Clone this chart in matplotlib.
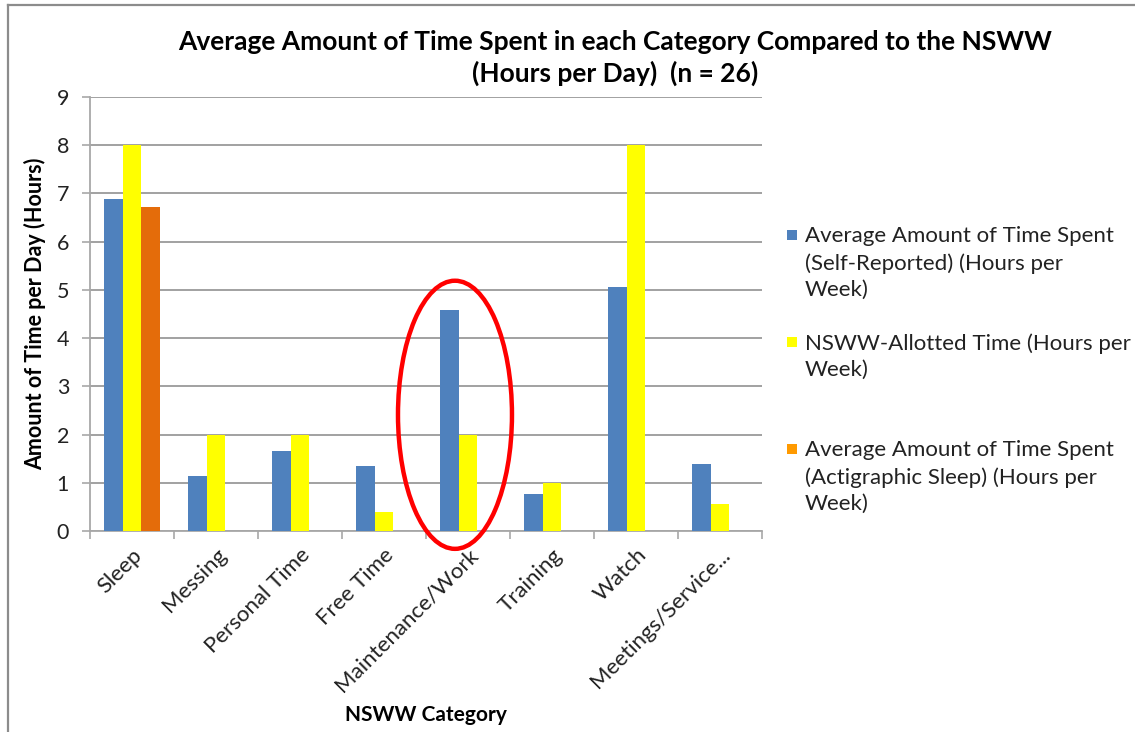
import numpy as np
import matplotlib
matplotlib.use("Agg")
import matplotlib.pyplot as plt
from matplotlib.patches import Ellipse, Rectangle
from matplotlib.lines import Line2D

plt.rcParams["font.family"] = ["Lato", "DejaVu Sans"]

categories = ["Sleep", "Messing", "Personal Time", "Free Time",
              "Maintenance/Work", "Training", "Watch", "Meetings/Service..."]
self_reported = [6.88, 1.14, 1.65, 1.34, 4.59, 0.76, 5.06, 1.38]
nsww_allotted = [8.0, 2.0, 2.0, 0.40, 2.0, 1.0, 8.0, 0.55]
actigraphic = [6.71, 0, 0, 0, 0, 0, 0, 0]

series_labels = [
    "Average Amount of Time Spent\n(Self-Reported) (Hours per\nWeek)",
    "NSWW-Allotted Time (Hours per\nWeek)",
    "Average Amount of Time Spent\n(Actigraphic Sleep) (Hours per\nWeek)",
]
bar_colors = ["#4F81BD", "#FFFF00", "#E46C0A"]
legend_colors = ["#4F81BD", "#FFFF00", "#FF9A00"]

W, H = 1135, 732
fig = plt.figure(figsize=(W / 100, H / 100), dpi=100)
ax = fig.add_axes([90 / W, 1 - 531 / H, 672 / W, 434 / H])

x = np.arange(len(categories))
bw = 1 / 4.5
for i, (vals, col) in enumerate(zip([self_reported, nsww_allotted, actigraphic], bar_colors)):
    ax.bar(x + (i - 1) * bw, vals, width=bw, color=col, zorder=3)

grid_col = "#9a9a9a"
ax.set_xlim(-0.5, len(categories) - 0.5)
ax.set_ylim(0, 9)
ax.set_yticks(range(10))
ax.yaxis.grid(True, color=grid_col, linewidth=1.3, zorder=0)
for s in ["top", "right"]:
    ax.spines[s].set_visible(False)
for s in ["left", "bottom"]:
    ax.spines[s].set_color("#a8a8a8")
    ax.spines[s].set_linewidth(1.3)

ax.tick_params(axis="y", length=6, width=1.2, color="#a8a8a8", pad=9,
               labelsize=15.5, labelcolor="#222222")
ax.set_xticks(x)
ax.set_xticks(np.arange(-0.5, len(categories)), minor=True)
ax.tick_params(axis="x", which="major", length=0, pad=10)
ax.tick_params(axis="x", which="minor", length=6, width=1.2, color="#a8a8a8")
ax.set_xticklabels(categories, rotation=45, ha="right", rotation_mode="anchor",
                   fontsize=16, color="#222222")

ax.set_xlabel("NSWW Category", fontsize=15, fontweight="bold")
ax.xaxis.set_label_coords(0.5, -0.4)
ax.set_ylabel("Amount of Time per Day (Hours)", fontsize=15.5, fontweight="bold")
ax.yaxis.set_label_coords(-0.066, 0.5)

# highlight the maintenance/work group
ax.add_patch(Ellipse((3.845, 2.41), 1.357, 5.56, fill=False, edgecolor="#FF0000",
                     linewidth=3.2, clip_on=False, zorder=5))

fig.text(615 / W, 1 - 58 / H,
         "Average Amount of Time Spent in each Category Compared to the NSWW\n(Hours per Day)  (n = 26)",
         ha="center", va="center", fontsize=19, fontweight="bold", linespacing=1.35)

# legend drawn by hand so entries keep their uneven spacing
entry_tops = [226, 333, 440]
for top, lab, col in zip(entry_tops, series_labels, legend_colors):
    fig.add_artist(Rectangle((787 / W, 1 - (top + 14) / H), 10 / W, 10 / H,
                             transform=fig.transFigure, facecolor=col, edgecolor="none"))
    fig.text(805 / W, 1 - top / H, lab, ha="left", va="top", fontsize=16,
             color="#222222", linespacing=1.42)

# chart frame
fig.add_artist(Line2D([7.5 / W, 7.5 / W], [0, 1 - 5 / H], transform=fig.transFigure,
                      color="#8c8c8c", linewidth=1.6))
fig.add_artist(Line2D([7.5 / W, 1], [1 - 5 / H, 1 - 5 / H], transform=fig.transFigure,
                      color="#8c8c8c", linewidth=1.6))

fig.savefig("out.png", dpi=100)
